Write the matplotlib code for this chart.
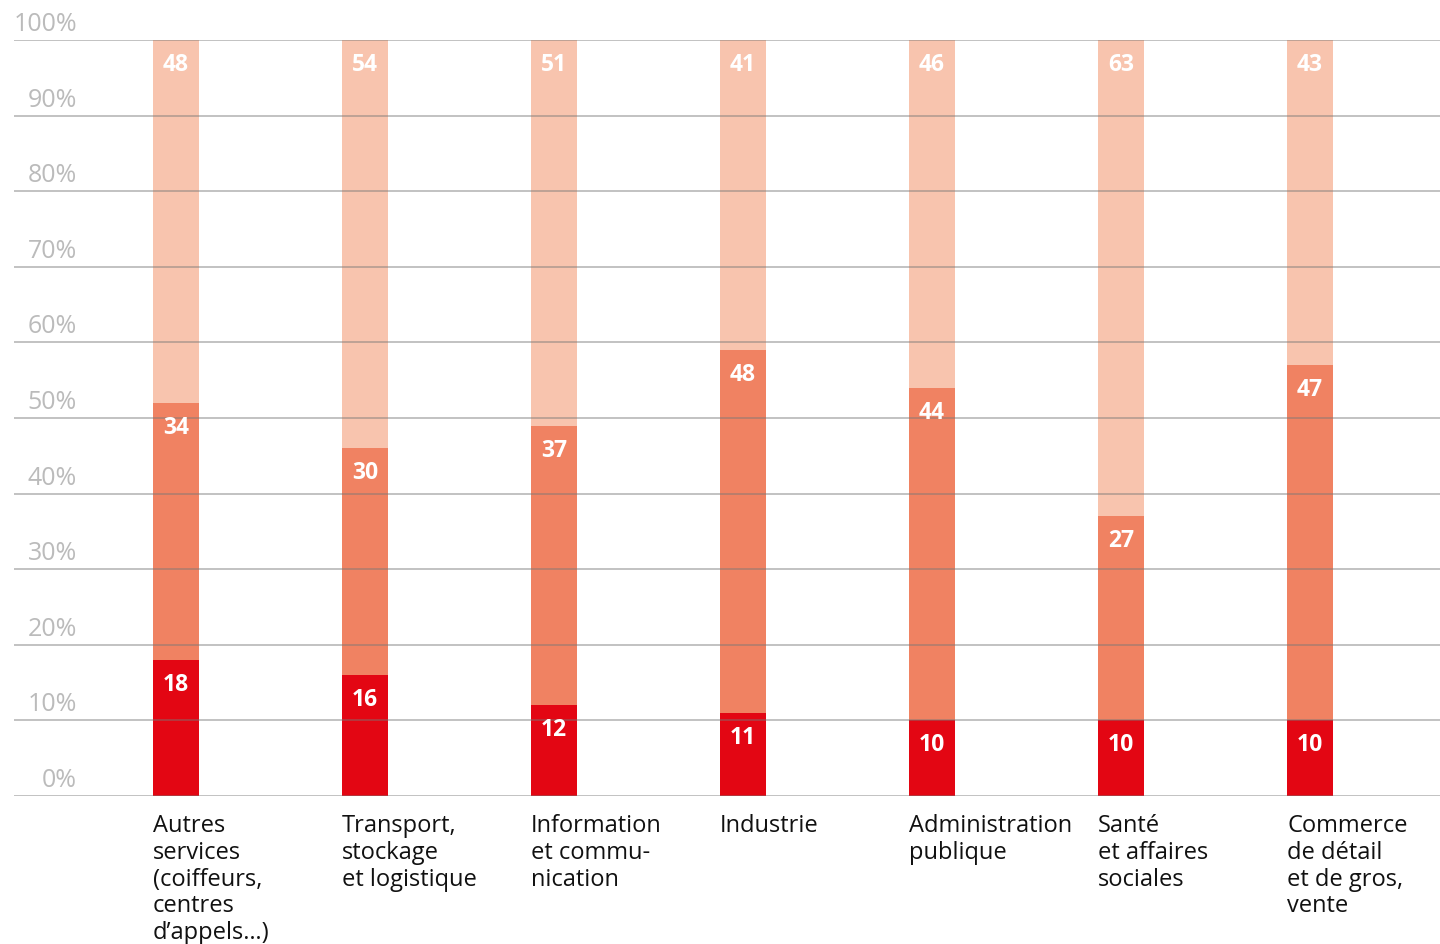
import matplotlib.pyplot as plt
import matplotlib.transforms as mtransforms

plt.rcParams['font.family'] = ['Open Sans', 'DejaVu Sans']

categories = ["Autres\nservices\n(coiffeurs,\ncentres\nd\u2019appels\u2026)",
              "Transport,\nstockage\net logistique",
              "Information\net commu-\nnication",
              "Industrie",
              "Administration\npublique",
              "Sant\u00e9\net affaires\nsociales",
              "Commerce\nde d\u00e9tail\net de gros,\nvente"]
bas = [18, 16, 12, 11, 10, 10, 10]
milieu = [34, 30, 37, 48, 44, 27, 47]
haut = [48, 54, 51, 41, 46, 63, 43]
yticks = [0, 10, 20, 30, 40, 50, 60, 70, 80, 90, 100]

colors = ["#E30613", "#F08262", "#F8C4AE"]

fig = plt.figure(figsize=(14.4, 9.45), dpi=100)
ax = fig.add_axes([14 / 1440, 148 / 945, 1426 / 1440, 756 / 945])

x = list(range(len(categories)))
w = 0.243
bottom = [0] * len(x)
down = ax.transData + mtransforms.ScaledTranslation(0, -12 / 100, fig.dpi_scale_trans)
for vals, c in zip([bas, milieu, haut], colors):
    ax.bar(x, vals, w, bottom=bottom, color=c, zorder=1)
    for xi, b, v in zip(x, bottom, vals):
        ax.text(xi, b + v, str(v), ha="center", va="top", color="white",
                fontsize=16.5, fontweight="bold", zorder=3, transform=down)
    bottom = [b + v for b, v in zip(bottom, vals)]

# gridlines drawn over the bars
up = mtransforms.blended_transform_factory(fig.transFigure, ax.transData) + \
    mtransforms.ScaledTranslation(0, 4 / 100, fig.dpi_scale_trans)
for t in yticks:
    ax.axhline(t, color="#777777", alpha=0.45, lw=1.4, zorder=2)
    ax.text(77 / 1440, t, f"{t}%", transform=up,
            ha="right", va="bottom", fontsize=18, color="#BBBBBB")

for xi, lab in zip(x, categories):
    ax.text(xi - w / 2, -2.3, lab, ha="left", va="top", fontsize=17,
            color="#111111", linespacing=1.15)

ax.set_xlim(-0.857, 6.688)
ax.set_ylim(0, 100)
ax.axis("off")

fig.savefig("out.png", dpi=100)
